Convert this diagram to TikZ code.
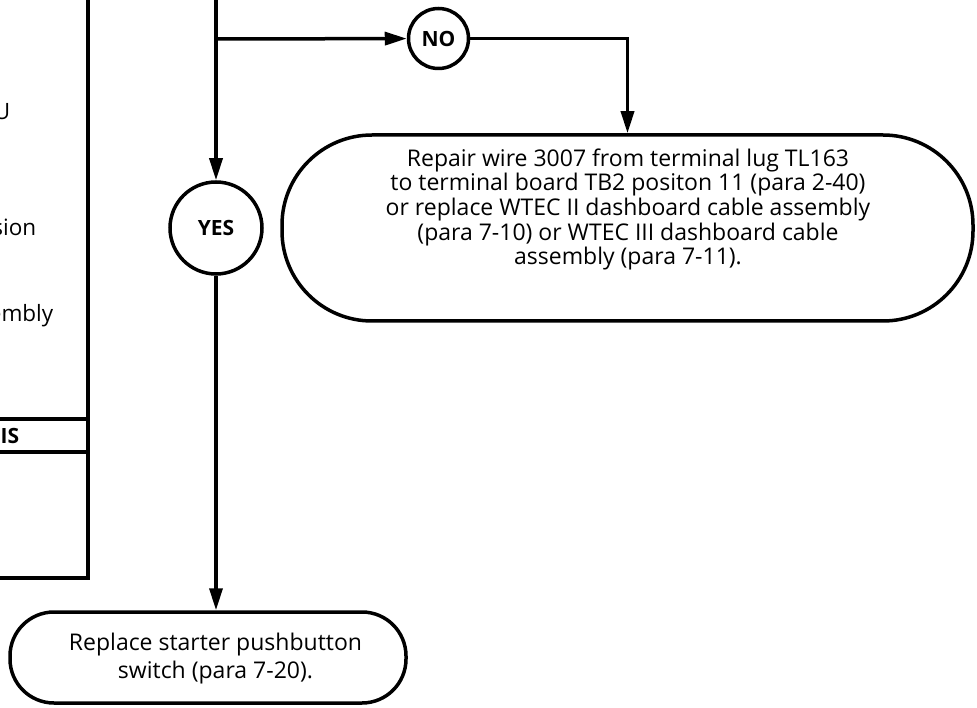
\documentclass[tikz,border=0pt]{standalone}
\usepackage{fontspec}
\setmainfont{Open Sans}
\usetikzlibrary{arrows.meta}
\begin{document}
\begin{tikzpicture}[x=1pt,y=-1pt,line width=3.5pt,
  conn/.style={-{Triangle[length=22pt,width=13pt]}},
  dec/.style={circle,draw,inner sep=0pt,font=\fontsize{21}{24}\selectfont\bfseries},
  term/.style={draw,inner sep=0pt},
  txt/.style={align=center,inner sep=0pt},
  frag/.style={anchor=base east,inner sep=0pt,font=\fontsize{22.5}{26}\selectfont}]
\useasboundingbox (0,0) rectangle (977,708);
\clip (0,0) rectangle (977,708);
% left box remnant
\draw (88,-5) -- (88,578) -- (-5,578);
\draw (-5,419) -- (88,419);
\draw (-5,452) -- (88,452);
\node[frag] (f1) at (3,62) {n};
\node[frag] (f2) at (12,120) {U};
\node[frag] (f3) at (38,236) {sion};
\node[frag] (f4) at (55,322) {embly};
\node[frag,font=\fontsize{21}{24}\selectfont\bfseries] (f5) at (21,443) {IS};
% main flow
\coordinate (top) at (216,-5);
\coordinate (br) at (216,39);
\node[dec,minimum size=60pt] (no) at (438.5,38.5) {NO};
\node[dec,minimum size=92pt] (yes) at (216,228) {YES};
\node[term,minimum width=691pt,minimum height=186pt,rounded corners=90pt] (repair) at (627.5,228) {};
\node[txt,font=\fontsize{23}{24.7}\selectfont] (repairtext) at (628,209.5)
  {Repair wire 3007 from terminal lug TL163\\
   to terminal board TB2 positon 11 (para 2-40)\\
   or replace WTEC II dashboard cable assembly\\
   (para 7-10) or WTEC III dashboard cable\\
   assembly (para 7-11).};
\node[term,minimum width=396pt,minimum height=91pt,rounded corners=44pt] (replace) at (208,657.5) {};
\node[txt,font=\fontsize{23}{28}\selectfont] (replacetext) at (215.5,659)
  {Replace starter pushbutton\\ switch (para 7-20).};
\draw[conn] (top) -- (yes);
\draw[conn] (br) -- (no);
\draw[conn] (no) -| (repair.north);
\draw[conn] (yes) -- (yes |- replace.north);
\end{tikzpicture}
\end{document}
